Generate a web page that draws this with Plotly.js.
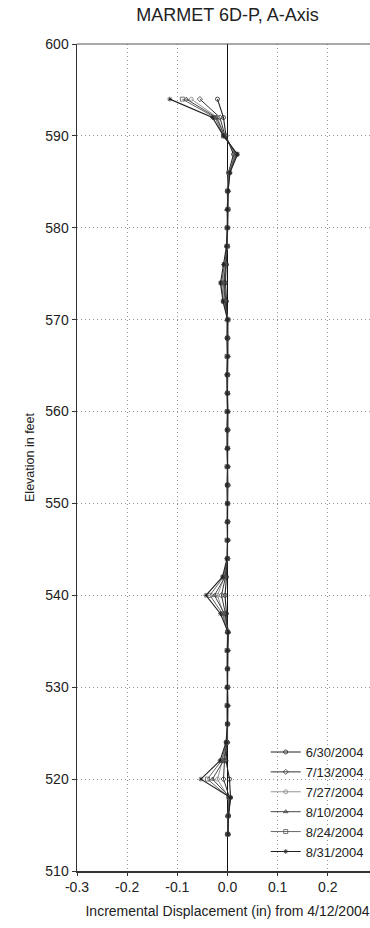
<!DOCTYPE html>
<html>
<head>
<meta charset="utf-8">
<script src="https://cdn.plot.ly/plotly-3.0.1.min.js"></script>
<style>
html,body{margin:0;padding:0;background:#fff;overflow:hidden;width:370px;height:928px;}
#chart{width:420px;height:928px;}
</style>
</head>
<body>
<div id="chart"></div>
<script>
// Elevations (feet), top to bottom
var elevation = [594,592,590,588,586,584,582,580,578,576,574,572,570,568,566,564,562,560,558,556,554,552,550,548,546,544,542,540,538,536,534,532,530,528,526,524,522,520,518,516,514];

var seriesNames = ["6/30/2004","7/13/2004","7/27/2004","8/10/2004","8/24/2004","8/31/2004"];

// Incremental displacement (in) for each survey date
var d0630 = [-0.020,-0.008,-0.003,0.012,0.002,0.000,0.001,0.000,-0.001,-0.002,-0.004,-0.002,0.000,0.001,0.000,-0.001,0.000,0.001,0.000,0.000,0.001,0.000,0.000,0.001,0.000,0.000,-0.002,-0.005,-0.002,0.001,0.000,0.000,0.001,0.000,0.000,0.000,-0.003,0.004,0.006,0.002,0.001];
var d0713 = [-0.055,-0.015,-0.005,0.015,0.003,0.001,0.000,0.000,0.000,-0.004,-0.006,-0.004,0.001,0.000,0.001,0.000,-0.001,0.000,0.001,0.000,0.000,0.001,0.000,0.000,0.001,0.000,-0.004,-0.012,-0.004,0.000,0.001,0.000,0.000,0.001,0.000,-0.001,-0.006,-0.008,0.004,0.001,0.000];
var d0727 = [-0.072,-0.020,-0.006,0.016,0.002,-0.001,0.001,0.001,-0.002,-0.005,-0.010,-0.006,0.000,-0.001,0.000,0.001,0.000,0.000,-0.001,0.001,0.000,0.000,0.001,0.000,0.000,-0.001,-0.006,-0.020,-0.008,0.001,0.000,-0.001,0.000,0.000,0.001,-0.002,-0.010,-0.020,0.002,0.002,0.002];
var d0810 = [-0.082,-0.022,-0.006,0.018,0.004,0.001,-0.001,0.000,-0.001,-0.003,-0.008,-0.005,-0.001,0.000,0.000,0.000,0.001,0.000,0.000,-0.001,0.000,0.001,0.000,-0.001,0.000,0.000,-0.005,-0.026,-0.006,0.002,0.000,0.000,-0.001,0.000,0.000,-0.001,-0.008,-0.030,0.005,0.000,0.001];
var d0824 = [-0.090,-0.025,-0.008,0.018,0.003,0.000,0.001,-0.001,0.000,-0.006,-0.012,-0.008,0.001,0.000,-0.001,0.000,0.000,-0.001,0.000,0.000,-0.001,0.000,0.000,0.000,-0.001,0.000,-0.008,-0.035,-0.010,0.000,-0.001,0.000,0.000,-0.001,0.000,-0.002,-0.012,-0.040,0.003,0.001,0.000];
var d0831 = [-0.115,-0.030,-0.008,0.020,0.005,0.001,0.000,0.000,-0.002,-0.008,-0.014,-0.009,0.000,-0.001,0.000,-0.001,0.000,0.000,-0.001,0.000,0.000,-0.001,0.000,0.000,0.000,-0.001,-0.010,-0.043,-0.014,0.001,0.000,0.000,-0.001,0.000,0.000,-0.003,-0.015,-0.053,0.006,0.002,0.001];

var seriesData = [d0630,d0713,d0727,d0810,d0824,d0831];

var xTicks = [-0.3,-0.2,-0.1,0.0,0.1,0.2];
var xTickText = ["-0.3","-0.2","-0.1","0.0","0.1","0.2"];
var yTicks = [510,520,530,540,550,560,570,580,590,600];

var styles = [
  {color:'#222', symbol:'circle-open', lw:1.1},
  {color:'#333', symbol:'diamond-open', lw:1.0},
  {color:'#8a8a8a', symbol:'circle-open', lw:0.9},
  {color:'#333', symbol:'triangle-up-open', lw:0.9},
  {color:'#555', symbol:'square-open', lw:0.9},
  {color:'#222', symbol:'asterisk-open', lw:1.1}
];

var traces = seriesData.map(function(vals, i){
  return {
    x: vals, y: elevation, name: seriesNames[i],
    type: 'scatter', mode: 'lines+markers',
    line: {color: styles[i].color, width: styles[i].lw},
    marker: {symbol: styles[i].symbol, size: 4, color: styles[i].color, line:{width:0.8, color: styles[i].color}}
  };
});

var font = "'Liberation Sans', Arial, sans-serif";

var layout = {
  width: 420, height: 928,
  margin: {l: 77, r: 42, t: 44, b: 57},
  paper_bgcolor: '#fff', plot_bgcolor: '#fff',
  font: {family: font, color: '#222', size: 13},
  title: {text: 'MARMET 6D-P, A-Axis', font: {family: font, size: 18, color: '#222'}, x: 0.5, xref: 'paper', y: 0.984, yanchor: 'middle'},
  showlegend: true,
  legend: {x: 0.627, xanchor: 'left', y: 0.162, yanchor: 'top', bgcolor: 'rgba(0,0,0,0)', font: {family: font, size: 13, color: '#222'}, itemwidth: 30, traceorder: 'normal'},
  xaxis: {
    range: [-0.3, 0.3], tickvals: xTicks, ticktext: xTickText,
    showgrid: true, gridcolor: '#999', griddash: '1px,3px', gridwidth: 1,
    zeroline: true, zerolinecolor: '#111', zerolinewidth: 1.5,
    showline: true, linecolor: '#333', linewidth: 1.5, mirror: false,
    ticks: 'outside', ticklen: 3, tickcolor: '#333',
    tickfont: {family: font, size: 14, color: '#222'},
    title: {text: 'Incremental Displacement (in) from 4/12/2004', font: {family: font, size: 14, color: '#222'}, standoff: 12}
  },
  yaxis: {
    range: [510, 600], tickvals: yTicks,
    showgrid: true, gridcolor: '#999', griddash: '1px,3px', gridwidth: 1,
    zeroline: false,
    showline: true, linecolor: '#333', linewidth: 1.5,
    ticks: 'outside', ticklen: 4, tickcolor: '#333',
    tickfont: {family: font, size: 14, color: '#222'},
    title: {text: 'Elevation in feet', font: {family: font, size: 12.5, color: '#222'}, standoff: 8}
  },
  shapes: [{type:'line', xref:'paper', yref:'paper', x0:0, x1:1, y0:1, y1:1, line:{color:'#555', width:1}}]
};

Plotly.newPlot('chart', traces, layout, {displayModeBar: false, staticPlot: true});
</script>
</body>
</html>
